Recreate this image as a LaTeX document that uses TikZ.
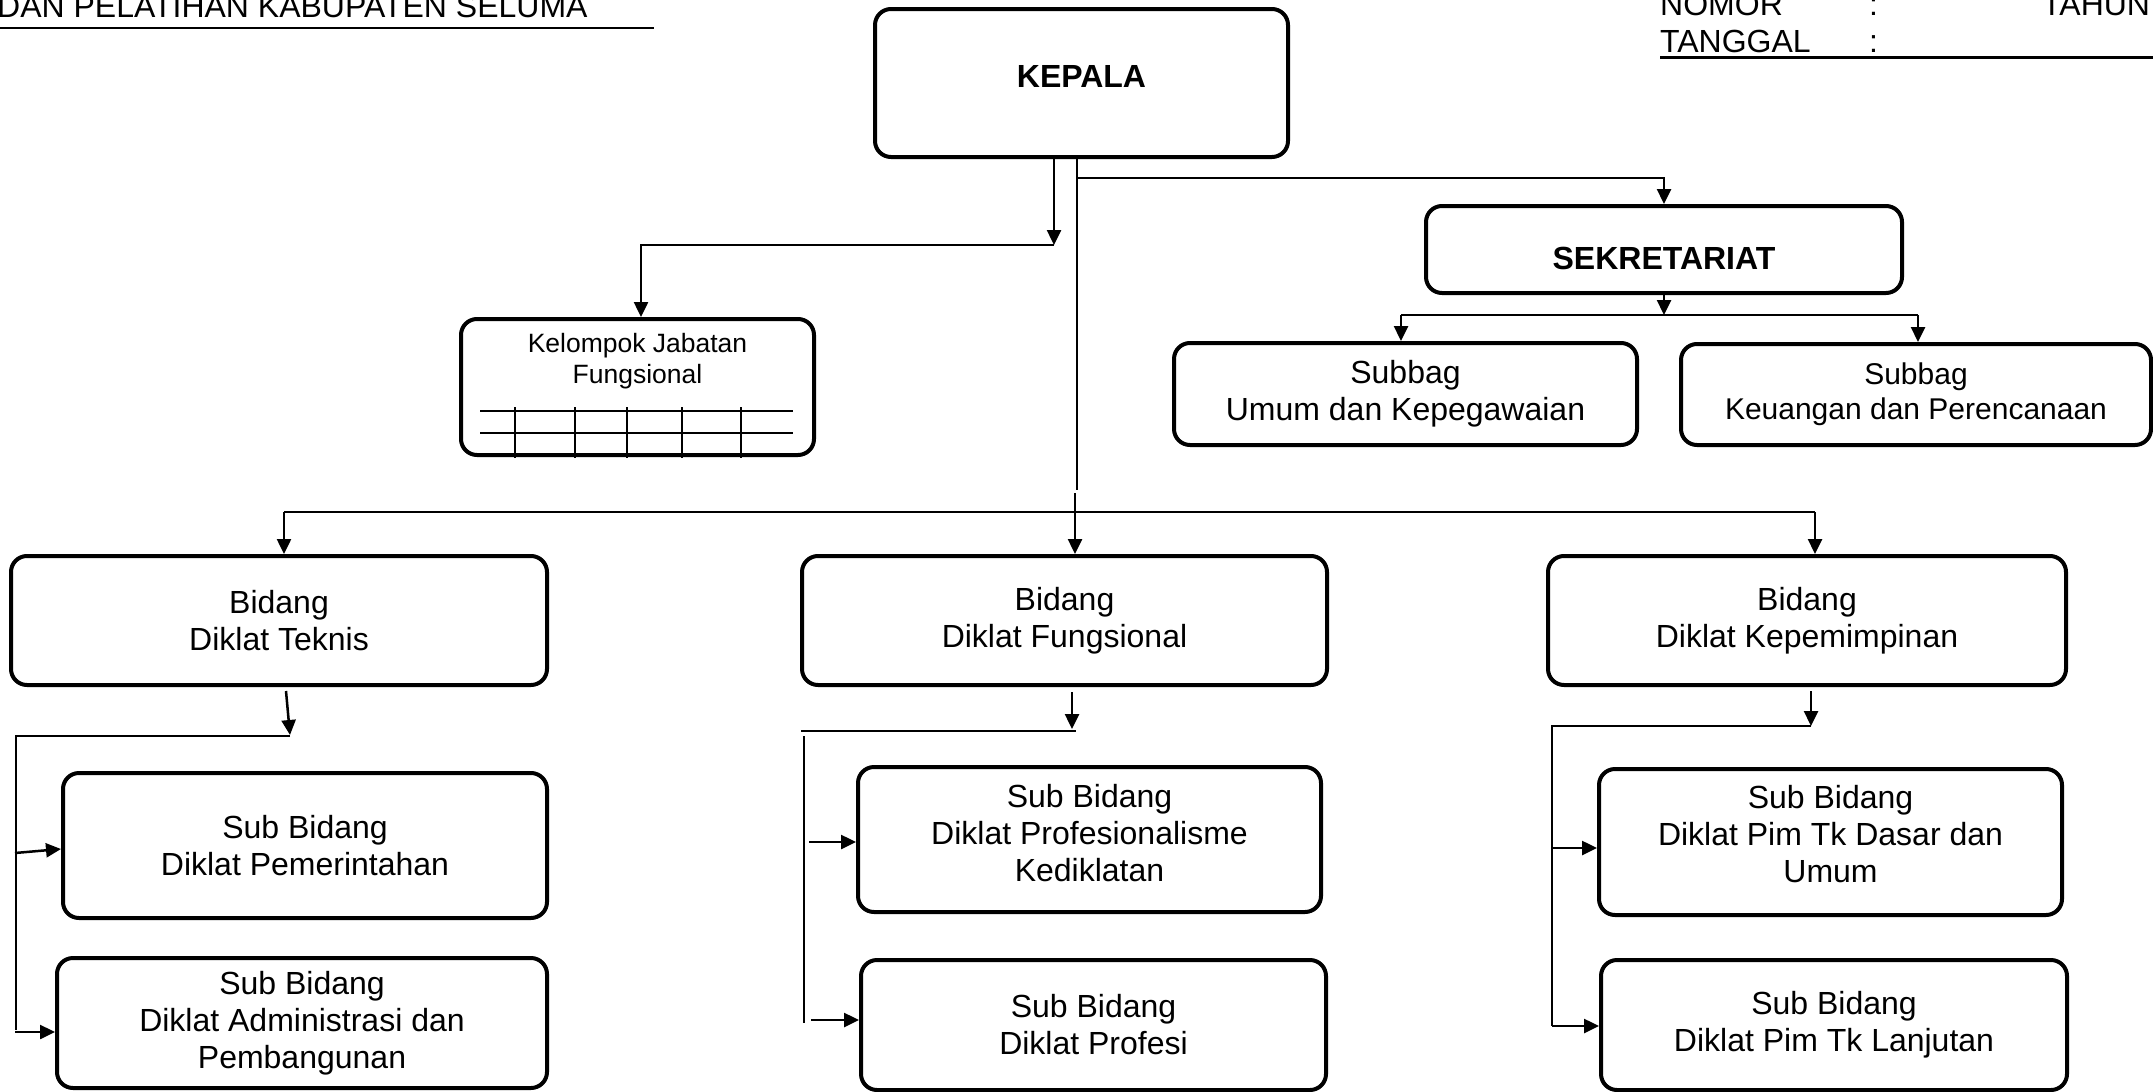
\documentclass[tikz,border=0pt]{standalone}
\usepackage{fontspec}
\setmainfont{Liberation Sans}
\usetikzlibrary{arrows.meta}

\begin{document}
\begin{tikzpicture}[x=1pt,y=-1pt,
  unit/.style={draw, line width=4pt, rounded corners=16pt, align=center,
    inner sep=0pt, font=\fontsize{32}{37}\selectfont},
  headunit/.style={unit, font=\bfseries\fontsize{32}{37}\selectfont},
  sz/.style 2 args={minimum width=#1pt, minimum height=#2pt},
  conn/.style={line width=2.5pt},
  arr/.style={conn, -{Triangle[length=15pt,width=14pt]}},
  hdr/.style={anchor=base west, inner sep=0pt, font=\fontsize{32}{37}\selectfont},
]
\fill[white] (0,0) rectangle (2153,1092);
\useasboundingbox (0,0) rectangle (2153,1092);

% ---------- page header ----------
\node[hdr] (hleft) at (-3,17) {DAN PELATIHAN KABUPATEN SELUMA};
\draw[line width=2.5pt] (0,28) -- (654,28);
\node[hdr] (nomor)  at (1660,16) {NOMOR};
\node[hdr] (nomorc) at (1869,16) {:};
\node[hdr] (tahun)  at (2042,16) {TAHUN};
\node[hdr] (tgl)    at (1660,52) {TANGGAL};
\node[hdr] (tglc)   at (1869,52) {:};
\draw[line width=3pt] (1660,57) -- (2153,57);

% ---------- units ----------
\node[headunit, sz={413}{148}, text height=23pt, text depth=15pt] (kepala) at (1081.5,83) {KEPALA};
\node[headunit, sz={476}{87}, text height=39pt, text depth=0pt] (sek) at (1664,249.5) {SEKRETARIAT};

\node[unit, sz={463}{102}] (su) at (1405.5,394) {Subbag\\Umum dan Kepegawaian};
\node[unit, sz={470}{101}, font=\fontsize{30}{35}\selectfont] (sk) at (1916,394.5) {Subbag\\Keuangan dan Perencanaan};

% functional group with its table
\node[unit, sz={353}{136}] (kjf) at (637.5,387) {};
\node[anchor=north, inner sep=0pt, align=center, font=\fontsize{26.5}{31}\selectfont] (kjft) at (637.5,333) {Kelompok Jabatan\\Fungsional};
\draw[conn] (480,411) -- (793,411);
\draw[conn] (480,433) -- (793,433);
\foreach \gx in {515,575,627,682,741} \draw[conn] (\gx,407) -- (\gx,458);

% fields
\node[unit, sz={536}{129}] (bt) at (279,620.5) {Bidang\\Diklat Teknis};
\node[unit, sz={525}{129}] (bf) at (1064.5,620.5) {Bidang\\Diklat Fungsional};
\node[unit, sz={518}{129}] (bk) at (1807,620.5) {Bidang\\Diklat Kepemimpinan};

% sub fields
\node[unit, sz={484}{145}] (sp)  at (305,845.5) {Sub Bidang\\Diklat Pemerintahan};
\node[unit, sz={490}{130}] (sa)  at (302,1023) {Sub Bidang\\Diklat Administrasi dan\\Pembangunan};
\node[unit, sz={463}{145}] (spk) at (1089.5,839.5) {Sub Bidang\\Diklat Profesionalisme\\Kediklatan\rule[-14pt]{0pt}{14pt}};
\node[unit, sz={465}{130}] (spf) at (1093.5,1025) {Sub Bidang\\Diklat Profesi};
\node[unit, sz={463}{146}] (spd) at (1830.5,842) {Sub Bidang\\Diklat Pim Tk Dasar dan\\Umum\rule[-17pt]{0pt}{17pt}};
\node[unit, sz={466}{130}] (spl) at (1834,1025) {Sub Bidang\\Diklat Pim Tk Lanjutan};

% ---------- connectors ----------
% head -> functional group
\coordinate (jk) at (1054,245);
\draw[arr] (kepala.south -| jk) -- (jk);
\draw[arr] (jk) -| ([xshift=3.5pt]kjf.north);

% head -> secretariat, and the main trunk
\coordinate (js) at (1077,178);
\coordinate (jm) at (1077,490);
\draw[conn] (kepala.south -| jm) -- (jm);
\draw[arr] (js) -| (sek.north);

% secretariat -> sub sections
\coordinate (sl) at (1401,315);
\coordinate (sr) at (1918,315);
\draw[arr] (sek.south) -- (sek.south |- sl);
\draw[conn] (sl) -- (sr);
\draw[arr] (sl) -- (sl |- su.north);
\draw[arr] (sr) -- (sr |- sk.north);

% trunk -> fields
\coordinate (bl) at (284,512);
\coordinate (br) at (1815,512);
\coordinate (jf) at (1075,493);
\draw[conn] (bl) -- (br);
\draw[arr] (bl) -- (bl |- bt.north);
\draw[arr] (br) -- (br |- bk.north);
\draw[arr] (jf) -- (jf |- bf.north);

% Bidang Diklat Teknis -> sub fields
\coordinate (t0) at (286,691);
\coordinate (t1) at (290,736);
\coordinate (t2) at (16,736);
\coordinate (t3) at (16,1030);
\coordinate (t4) at (15,853);
\coordinate (t5) at (15,1032);
\draw[arr] (t0) -- ([yshift=1pt]t1);
\draw[conn] (t1) -- (t2) -- (t3);
\draw[arr] (t4) -- ([yshift=-3.5pt]sp.west);
\draw[arr] (t5) -- (t5 -| sa.west);

% Bidang Diklat Fungsional -> sub fields
\coordinate (f0) at (1072,692);
\coordinate (f1) at (1072,729);
\coordinate (f2) at (801,731);
\coordinate (f3) at (1076,731);
\coordinate (f4) at (804,736);
\coordinate (f5) at (804,1023);
\coordinate (f6) at (809,842);
\coordinate (f7) at (811,1020);
\draw[arr] (f0) -- (f1);
\draw[conn] (f2) -- (f3);
\draw[conn] (f4) -- (f5);
\draw[arr] (f6) -- (f6 -| spk.west);
\draw[arr] (f7) -- (f7 -| spf.west);

% Bidang Diklat Kepemimpinan -> sub fields
\coordinate (k0) at (1811,691);
\coordinate (k1) at (1811,726);
\coordinate (k2) at (1552,726);
\coordinate (k3) at (1552,1026);
\coordinate (k4) at (1552,848);
\draw[arr] (k0) -- (k1);
\draw[conn] (k1) -- (k2) -- (k3);
\draw[arr] (k4) -- (k4 -| spd.west);
\draw[arr] (k3) -- (k3 -| spl.west);
\end{tikzpicture}
\end{document}
